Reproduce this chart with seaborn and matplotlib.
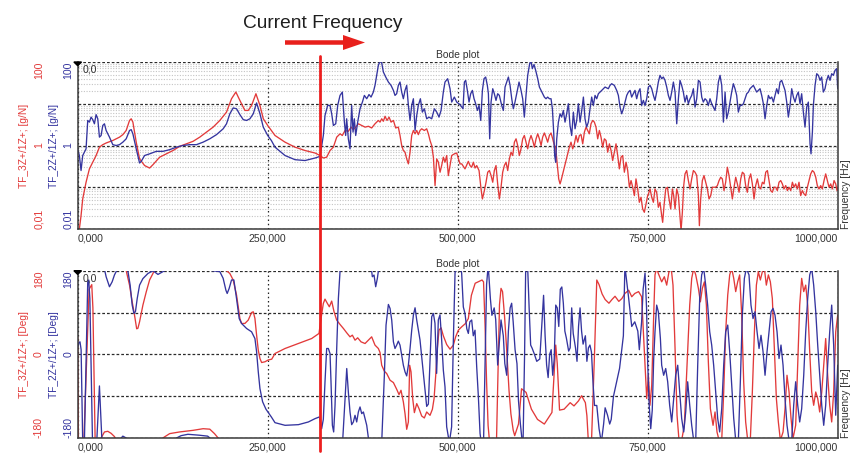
import numpy as np
import pandas as pd
import matplotlib
matplotlib.use("Agg")
import matplotlib.pyplot as plt
import seaborn as sns
from matplotlib.lines import Line2D
from matplotlib.patches import FancyArrow, Polygon
from matplotlib.transforms import blended_transform_factory
from matplotlib.ticker import FixedLocator, FuncFormatter, LogLocator, NullFormatter

nan = float("nan")

# ---------------------------------------------------------------------------
# Measured transfer functions.  Frequency in Hz; magnitude given in decades
# (log10 of g/N); phase in degrees.  A nan entry marks a break in the trace.
# ---------------------------------------------------------------------------
current_frequency = 319.0

red_mag = [
    (0.5, -2.3), (2.2, -2.0), (4.4, -1.68), (6.6, -1.28), (11, -0.88), (15.4, -0.56), (19.8, -0.4),
    (24.2, -0.24), (28.6, -0.04), (33, 0.02), (37.4, 0.06), (46.2, 0.12), (55, 0.2), (59.4, 0.26),
    (63.8, 0.36), (68.2, 0.6), (70.4, 0.64), (72.6, 0.56), (77, 0.08), (81.4, -0.32), (88, -0.48),
    (94.6, -0.54), (99, -0.46), (107.8, -0.28), (116.6, -0.2), (125.4, -0.12), (134.2, -0.02),
    (143, 0.04), (151.8, 0.1), (160.6, 0.2), (169.4, 0.32), (178.2, 0.44), (187, 0.6), (195.8, 0.8),
    (202.4, 1.12), (208.1, 1.28), (213.4, 1.08), (220, 0.84), (224.4, 0.84), (228.8, 0.96),
    (234.5, 1.24), (239.8, 0.96), (244.2, 0.64), (250, 0.48), (254.8, 0.36), (259.6, 0.24),
    (272.8, 0.08), (286, -0.04), (299.1, -0.12), (312.3, -0.18), (318.9, -0.24), (323.2, -0.3),
    (327.6, -0.28), (332, -0.12), (336.4, -0.04), (340.8, 0.2), (345.2, 0.28), (348.2, 0.24),
    (351.8, 0.36), (356.1, 0.34), (359.7, 0.44), (362.7, 0.38), (365.8, 0.44), (369.3, 0.52),
    (373.7, 0.48), (378.1, 0.44), (382.5, 0.46), (386.8, 0.42), (391.2, 0.52), (395.6, 0.6),
    (397.8, 0.56), (400, 0.64), (402.2, 0.58), (404.4, 0.7), (407, 0.6), (409.7, 0.68), (412.3, 0.56),
    (415.4, 0.6), (418.4, 0.42), (421.9, 0.44), (424.1, 0.24), (426.3, 0.0), (428.5, -0.12),
    (430.7, -0.16), (432.9, -0.32), (435.1, -0.44), (437.3, -0.16), (439.5, 0.24), (441.7, 0.36),
    (443.9, 0.28), (446.1, 0.36), (448.2, 0.26), (450.4, 0.36), (452.6, 0.4), (456.1, 0.36),
    (459.2, 0.4), (461.4, 0.28), (463.6, 0.12), (465.8, 0.0), (468, -0.28), (470.2, -0.96),
    (472.4, -0.32), (474.6, -0.4), (476.8, -0.64), (478.9, -0.48), (481.1, -0.28), (483.3, -0.4),
    (485.5, -0.24), (487.7, -0.72), (489.9, -0.48), (492.1, -0.24), (495.6, -0.2), (498.7, -0.18),
    (503, -0.44), (505.3, -0.44), (509.6, -0.56), (514, -0.38), (516.2, -0.48), (518.4, -0.52),
    (520.6, -0.4), (522.8, -0.54), (525, -0.48), (528.1, -0.6), (530.7, -1.04), (532.5, -1.28),
    (535.1, -1.08), (537.3, -0.88), (539.5, -0.64), (541.7, -0.6), (543.9, -0.72), (546.1, -0.88),
    (548.2, -0.6), (550.4, -0.48), (552.6, -0.92), (554.8, -1.28), (557, -1.0), (559.2, -0.64),
    (561.4, -0.48), (563.6, -0.4), (565.8, -0.6), (568, -0.32), (570.2, -0.16), (572.4, -0.24),
    (574.6, 0.08), (576.8, 0.16), (578.9, 0.0), (581.1, -0.24), (583.3, -0.08), (585.5, 0.16),
    (587.7, 0.24), (589.9, 0.08), (592.1, -0.08), (594.3, 0.12), (596.5, 0.24), (598.7, 0.12),
    (600.9, -0.04), (603.1, 0.16), (605.3, 0.28), (607.5, 0.16), (609.7, 0.0), (611.8, 0.2),
    (614, 0.3), (616.2, 0.2), (618.4, 0.08), (620.6, 0.24), (622.8, 0.3), (625, 0.16), (627.2, 0.0),
    (628.9, -0.04), (630.7, -0.4), (632.9, -0.8), (634.7, -0.92), (636, -0.84), (638.2, -0.68),
    (640.4, -0.52), (642.5, -0.36), (644.7, -0.2), (646.9, -0.04), (649.1, 0.08), (651.3, -0.08),
    (653.5, 0.04), (655.7, 0.24), (657.9, 0.08), (660.1, 0.24), (662.3, 0.26), (664.5, 0.04),
    (666.7, 0.32), (668.9, 0.44), (671.1, 0.36), (673.2, 0.28), (675.4, 0.52), (677.6, 0.6),
    (679.8, 0.56), (682, 0.44), (684.2, 0.16), (686.4, 0.36), (688.6, 0.2), (690.8, -0.04),
    (693, 0.16), (695.2, 0.12), (697.4, -0.16), (699.6, 0.04), (701.8, -0.12), (703.9, -0.36),
    (706.1, -0.16), (708.3, 0.04), (710.5, -0.24), (712.7, -0.56), (714.9, -0.28), (717.1, -0.24),
    (719.3, -0.64), (721.5, -0.4), (723.7, -0.6), (725.9, -1.0), (728.1, -0.84), (730.3, -1.0),
    (732.5, -1.2), (734.6, -0.8), (736.8, -1.04), (739, -1.36), (741.2, -1.24), (743.4, -1.52),
    (745.6, -1.6), (747.8, -1.4), (750, -1.2), (751, -1.16), (753.1, -1.04), (755.3, -1.24),
    (757.5, -1.36), (759.6, -1.04), (761.8, -1.12), (764, -1.48), (766.2, -1.36), (768.4, -1.68),
    (769.7, -1.84), (771.5, -1.44), (773.7, -1.04), (775.9, -1.0), (778.1, -1.28), (780.3, -1.52),
    (782.5, -1.04), (784.2, -1.2), (786, -1.52), (788.2, -1.04), (790.4, -1.2), (792.1, -1.6),
    (793.9, -2.04), (795.6, -1.6), (797.4, -0.96), (799.1, -0.68), (801.3, -0.6), (803.5, -0.84),
    (805.7, -1.04), (807.9, -0.8), (810.1, -0.6), (812.3, -0.64), (814.5, -0.72), (816.7, -1.2),
    (818, -1.92), (819.7, -1.28), (821.9, -0.84), (824.1, -0.72), (826.3, -0.88), (828.5, -1.04),
    (830.7, -1.28), (832.9, -1.2), (835.1, -1.0), (837.3, -1.0), (839.5, -1.0), (841.7, -0.96),
    (843.9, -0.84), (846.1, -0.76), (848.2, -0.8), (850.4, -1.08), (852.6, -0.88), (854.8, -0.52),
    (857, -0.72), (859.2, -1.0), (861.4, -1.28), (863.6, -1.0), (865.8, -0.76), (868, -0.92),
    (870.2, -1.12), (872.4, -0.8), (874.6, -0.64), (876.8, -0.68), (878.9, -0.96), (881.1, -1.12),
    (883.3, -0.8), (885.5, -0.68), (887.7, -0.92), (889.9, -1.28), (892.1, -0.96), (894.3, -0.8),
    (896.5, -1.0), (898.7, -1.04), (900.9, -0.88), (903.1, -0.92), (905.3, -0.64), (907.5, -0.6),
    (909.6, -0.84), (911.8, -1.08), (914, -1.12), (916.2, -1.0), (918.4, -1.0), (920.6, -1.08),
    (922.8, -0.88), (925, -0.84), (927.2, -0.92), (929.4, -1.04), (931.6, -0.96), (933.8, -1.08),
    (936, -1.0), (938.2, -1.08), (940.4, -0.88), (942.5, -1.0), (944.7, -0.92), (946.9, -1.04),
    (949.1, -0.88), (951.3, -1.2), (953.5, -1.08), (955.7, -1.16), (957.9, -1.2), (960.1, -1.0),
    (962.3, -0.84), (964.5, -0.68), (966.7, -0.6), (968.9, -0.64), (971.1, -0.76), (973.2, -0.96),
    (975.4, -1.04), (977.6, -0.96), (979.8, -1.04), (982, -0.84), (984.2, -0.68), (986.4, -0.84),
    (988.6, -1.0), (990.8, -0.92), (993, -1.04), (995.2, -0.84), (997.4, -0.92), (999.1, -1.08),
    (1000, -1.0),
]

blue_mag = [
    (0, -0.08), (2.2, -0.24), (4.4, -0.6), (6.6, -0.24), (8.8, -0.16), (11, -0.08), (13.2, 0.6),
    (15.4, 0.56), (17.6, 0.68), (19.8, 0.62), (22, 0.52), (24.2, 0.74), (26.4, 0.64), (28.6, 0.2),
    (30.8, 0.24), (33, 0.48), (35.2, 0.52), (37.4, 0.36), (41.8, 0.2), (46.2, 0.02), (50.6, 0.0),
    (55, 0.02), (59.4, 0.08), (63.8, 0.16), (68.2, 0.36), (70.4, 0.38), (72.6, 0.28), (77, -0.08),
    (81.4, -0.42), (83.6, -0.38), (88, -0.24), (94.6, -0.2), (103.4, -0.14), (112.2, -0.14),
    (121, -0.1), (129.8, -0.04), (138.6, 0.0), (147.4, 0.02), (156.2, 0.02), (165, 0.08),
    (173.8, 0.16), (182.6, 0.26), (191.4, 0.4), (195.8, 0.52), (200.2, 0.76), (204.6, 0.9),
    (209, 0.88), (213.4, 0.74), (217.8, 0.62), (222.2, 0.6), (226.6, 0.64), (231, 0.76),
    (235.4, 1.02), (239.8, 0.76), (244.2, 0.44), (250, 0.24), (254.8, 0.12), (259.6, -0.04),
    (272.8, -0.24), (286, -0.34), (299.1, -0.36), (312.3, -0.3), (318.9, -0.26), (323.2, 0.24),
    (325.4, 0.72), (328.9, 0.96), (332, 0.96), (334.2, 0.76), (336.4, 0.48), (339.5, 0.52),
    (342.1, 0.96), (345.2, 1.2), (348.2, 1.28), (350.9, 0.56), (352.6, 0.24), (353.9, 0.64),
    (356.1, 0.16), (358.3, -0.08), (360.5, 0.96), (362.3, 0.32), (364, 0.64), (365.8, 0.24),
    (368.4, 0.56), (371.5, 0.88), (374.6, 1.04), (377.2, 1.2), (380.3, 1.12), (383.3, 1.22),
    (386, 1.16), (389, 1.28), (391.2, 1.44), (393.4, 1.68), (395.6, 1.92), (397.8, 2.02),
    (400, 1.98), (402.2, 1.76), (405.3, 1.64), (408.8, 1.52), (412.3, 1.44), (415.4, 1.32),
    (417.5, 1.2), (419.7, 1.24), (421.9, 1.44), (424.1, 1.52), (426.3, 1.28), (428.5, 1.12),
    (430.7, 1.32), (432.9, 1.44), (435.1, 0.96), (437.3, 0.6), (439.5, 0.96), (441.7, 1.12),
    (443.9, 0.36), (446.1, 0.72), (448.2, 0.96), (450.9, 1.12), (453.5, 0.8), (456.1, 0.88),
    (459.2, 0.64), (462.3, 0.68), (465.8, 0.64), (469.3, 0.88), (472.4, 0.8), (475.4, 0.68),
    (478.1, 0.84), (481.1, 1.28), (483.3, 1.52), (486.8, 1.6), (489.9, 1.36), (492.1, 1.04),
    (495.6, 1.16), (498.7, 1.04), (503, 0.98), (507, 0.88), (508.8, 1.52), (510.5, 1.56),
    (512.7, 1.32), (514.9, 1.04), (517.1, 1.24), (519.3, 1.32), (521.5, 1.12), (523.7, 1.0),
    (525.9, 0.84), (528.1, 0.96), (530.3, 0.6), (532.5, 1.32), (534.6, 1.6), (536.8, 1.64),
    (539, 1.44), (540.4, 1.24), (542.1, 0.16), (543.9, 1.04), (546.1, 1.36), (548.2, 1.24),
    (550.4, 1.08), (552.6, 1.24), (554.8, 1.2), (557.9, 0.96), (560.1, 0.84), (562.3, 1.4),
    (564.5, 1.52), (566.7, 1.64), (568.9, 1.44), (571.1, 1.12), (573.2, 0.88), (575.4, 1.04),
    (578.1, 1.28), (580.7, 1.52), (582.9, 1.36), (585.5, 1.12), (587.7, 0.68), (589.9, 1.2),
    (592.1, 1.68), (594.7, 1.96), (596.5, 2.02), (598.2, 1.84), (600.4, 1.94), (602.6, 1.8),
    (605.3, 1.6), (607.5, 1.4), (609.7, 1.32), (611.8, 1.24), (614, 1.16), (616.2, 1.12),
    (618.4, 1.16), (620.6, 1.12), (622.8, 1.12), (624.6, 0.88), (626.3, 0.32), (627.6, -0.24),
    (628.9, -0.4), (630.3, 0.16), (632.5, 0.56), (634.7, 0.76), (636.8, 0.68), (639, 0.84),
    (641.2, 0.56), (643.4, 0.76), (645.6, 1.0), (647.8, 0.48), (650, 0.24), (652.2, 0.8),
    (654.4, 0.4), (656.6, 0.6), (658.8, 1.0), (661, 0.56), (663.2, 0.84), (665.4, 1.16),
    (667.5, 0.64), (669.7, 0.44), (671.9, 0.56), (674.1, 0.88), (676.3, 1.16), (678.5, 0.96),
    (680.7, 1.2), (682.9, 1.12), (685.1, 1.24), (689.5, 1.32), (693.9, 1.4), (698.2, 1.36),
    (700.4, 1.44), (702.6, 1.48), (706.1, 1.44), (709.2, 1.32), (711.4, 1.2), (713.6, 0.92),
    (715.8, 0.76), (718, 0.88), (720.2, 1.04), (722.4, 1.2), (724.6, 1.28), (726.8, 1.32),
    (728.9, 1.16), (731.1, 1.24), (733.3, 1.32), (735.5, 1.12), (737.7, 1.28), (739.9, 1.36),
    (742.1, 0.96), (744.3, 1.08), (746.5, 0.96), (748.7, 1.12), (750.9, 1.4), (753.1, 1.44),
    (755.3, 1.36), (757.5, 1.2), (759.6, 1.08), (761.8, 1.28), (764, 1.52), (766.2, 1.68),
    (768.4, 1.6), (770.6, 1.64), (772.8, 1.56), (775, 1.4), (777.2, 1.2), (779.4, 1.08),
    (781.6, 1.28), (783.8, 1.52), (786, 1.28), (788.2, 0.52), (790.4, 1.12), (792.5, 1.56),
    (794.7, 1.44), (796.9, 1.28), (799.1, 1.04), (801.3, 1.2), (803.5, 1.0), (805.7, 1.12),
    (807.9, 1.2), (810.1, 1.36), (812.3, 0.92), (814.5, 1.12), (816.7, 1.56), (818.9, 1.52),
    (821.1, 1.16), (823.2, 1.04), (825.4, 1.12), (827.6, 1.08), (829.8, 0.96), (832, 1.12),
    (834.2, 1.0), (836.4, 0.92), (838.6, 0.84), (840.8, 1.12), (843, 1.52), (845.2, 1.68),
    (847.4, 1.44), (849.6, 0.56), (851.8, 1.28), (853.9, 0.64), (856.1, 0.8), (858.3, 1.04),
    (860.5, 1.28), (862.7, 1.48), (864.9, 1.36), (867.1, 1.2), (869.3, 0.8), (871.5, 0.96),
    (873.7, 0.96), (875.9, 1.0), (878.1, 1.12), (880.3, 1.24), (882.5, 1.28), (884.6, 1.36),
    (886.8, 1.4), (889, 1.44), (891.2, 1.36), (893.4, 1.28), (895.6, 1.32), (897.8, 1.36),
    (900, 1.2), (902.2, 1.0), (904.4, 0.64), (906.6, 0.96), (908.8, 1.2), (911, 1.12),
    (913.2, 1.16), (915.4, 1.04), (917.5, 1.2), (919.7, 1.36), (921.9, 1.24), (924.1, 1.52),
    (926.3, 1.56), (928.5, 1.44), (930.7, 1.32), (932.9, 1.04), (935.1, 0.68), (937.3, 0.96),
    (939.5, 1.36), (941.7, 1.16), (943.9, 1.04), (946.1, 1.2), (948.2, 1.28), (950.4, 1.0),
    (952.6, 1.24), (954.8, 0.8), (957, 0.44), (959.2, 0.92), (961.4, 1.04), (963.6, 0.04),
    (964.9, -0.2), (966.7, 0.32), (968, 0.96), (970.2, 1.44), (972.4, 1.72), (974.6, 1.68),
    (976.8, 1.56), (978.9, 1.64), (981.1, 1.28), (983.3, 1.36), (985.5, 1.56), (987.7, 1.68),
    (989.9, 1.56), (992.1, 1.72), (994.3, 1.68), (996.5, 1.8), (998.7, 1.84), (1000, 1.36),
]

red_phase = [
    (0, 38), (1, -190), (8, -190), (15, 140), (18.5, 150), (20, 100), (23, -190), (28, -190),
    (30.8, -180), (35.2, -167), (39.6, -165.6), (44, -170), (48.4, -177), (51, -185), (52, nan),
    (62, 185), (63.8, 180), (68.2, 149), (71.7, 113), (74.8, 84), (77.6, 55), (79.2, 56),
    (81.4, 70), (85.8, 106), (90.2, 134.5), (94.6, 160), (99, 174), (102, 185), (103, nan),
    (110, -185), (112, -180), (121, -170.6), (134, -167), (151.8, -163.5), (165, -160),
    (173.8, -161), (180, -170.6), (184.8, -180), (186, -185), (187, nan),
    (194, 185), (195.8, 180), (200.2, 174), (204.6, 160), (209, 127.6), (211.2, 102.5),
    (213.4, 77.3), (215.6, 66.5), (220, 66.5), (224.4, 73.7), (228.8, 90), (231, 91.6),
    (233.2, 77.3), (235.4, 41.3), (237.6, 9), (239.8, -9), (242, -17.6), (246.4, -16),
    (250.8, -12), (255.3, -10.4), (259.6, 1.8), (272.8, 12.6), (290.4, 23.3), (307.9, 34.1),
    (317.5, 45), (320.2, 77.2), (323.2, 109.6), (325.4, 118.9), (328.5, 109.6), (331.1, 102.4),
    (334.2, 114.6), (337.3, 91.6), (340.8, 73.6), (345.2, 64.3), (349.6, 55.7), (354, 46.3),
    (358.3, 37.7), (361.4, 41.3), (364.9, 30.5), (368.4, 35.6), (372.8, 26.9), (378.1, 23.3),
    (382.5, 30.5), (386.8, 37.7), (391.2, 19.8), (395.6, 12.6), (397.8, 4), (400, -23.4),
    (403.5, -36.3), (406.6, -41.3), (411, -55.7), (415.4, -60.7), (419.7, -75.1), (422.8, -86.6),
    (425.4, -77.3), (428.5, -102.4), (430.7, -127.6), (432.9, -161.3), (435.1, -145.5),
    (436.8, -23.4), (438.6, -37.7), (440.8, -95.2), (443, -125.4), (446.1, -106), (449.1, -116.8),
    (452.6, -132.6), (456.1, -136.9), (459.2, -124), (463.6, -131.2), (466.7, -118.2),
    (468.9, -95.2), (471.1, -44.9), (473.2, 12.6), (475.4, 52.1), (478.1, 57.1), (481.1, 39.9),
    (485.5, 21.2), (489.9, 11.1), (494.3, 19.8), (497.3, 37.7), (500.9, 52.1), (505.3, 59.3),
    (510, 66), (514, 77), (518, 127), (523, 153), (527, 156), (532, 160), (534, 156), (536, 63),
    (538, -59), (540, -153), (542, -190), (551, -190), (553.5, 0), (555, 107), (557, 142),
    (559, 135), (561.5, 85), (564.5, 9), (567.5, -77), (570, -128), (573, -163), (575, -175),
    (580, -150), (584, -74), (590, -82), (597, -118), (605, -140), (614, -150), (620, -135),
    (624, -125), (627, -40), (629, 20), (631, -20), (634, -120), (640, -118), (648, -104),
    (653, -111), (659, -100), (663, -89), (668, -104), (670, -132), (672, -190), (676, -190),
    (680, 0), (683, 160), (686, 150), (690, 130), (694, 118), (699, 110), (703, 118), (707, 125),
    (712, 114), (716, 120), (720, 131), (725, 138), (729, 124), (733, 131), (738, 135),
    (742, 124), (744.3, 48.5), (746.5, -23), (748.7, -95), (750.9, -45), (753, -109.6),
    (755.3, -66.5), (757.9, 84.4), (759.6, 171), (761.8, 185), (764, 174), (768.4, 156),
    (771.9, 167), (775, 149), (778, 178), (780.7, 189), (783.3, 149), (786, 12.6), (788.6, -131),
    (791.2, -185), (794.7, -185), (798.2, -152.7), (801.8, -23.4), (805.3, 106), (807.9, 163.5),
    (810.5, 185), (813.2, 171), (816.7, 142), (819.3, 113), (821.9, 142), (824.6, 156),
    (827.2, 106), (829.8, -16), (832.5, -117), (836, -152.7), (838.6, -124), (841.2, -167),
    (843.9, -185), (847.4, -185), (850, -81), (852.6, 48.5), (855.3, 127.5), (857.9, 171),
    (860.5, 185), (863.2, 163.5), (865.8, 135), (868.4, 156), (871, 171), (873.7, 84.4),
    (876.3, -59), (878.9, -145.5), (881.6, -185), (885.1, -181), (887.7, -81), (890.4, 48.5),
    (893, 149), (895.6, 178), (898.2, 160), (900.9, 178), (903.5, 185), (906.1, 149),
    (908.8, 171), (911.4, 156), (914, 120), (916.7, 12.6), (919.3, -95), (921.9, -145.5),
    (924.6, -185), (928.1, -167), (930.7, -117), (933.3, -45), (936, -81), (938.6, -138),
    (941.2, -181), (944.7, -152.7), (947.4, -23.4), (950, 106), (952.6, 163.5), (955.3, 135),
    (957.9, 149), (960.5, 106), (963.2, 5.4), (965.8, -81), (968.4, -109.6), (971.1, -81),
    (973.7, -95), (976.3, -124), (979, -81), (981.6, -23.4), (984.2, 34), (986.8, -45),
    (989.5, -109.6), (992.1, -145.5), (994.7, -81), (997.4, 48.5), (1000, 84.4),
]

blue_phase = [
    (0, 15), (1.5, 25), (3, 27), (4.5, 10), (6.6, -190), (8.8, -190), (13.2, 156), (14.5, 160),
    (16, 120), (19.5, -190), (25, -190), (28.6, -68), (32, -190), (34, -190), (34.5, nan),
    (35, 185), (37.4, 167), (41.8, 145.5), (45.3, 156), (48.4, 171), (52.8, 185), (53.5, nan),
    (55, -185), (57.2, -180), (59.4, -176), (63.8, -180), (64.2, nan),
    (64.5, 185), (66, 180), (69, 149), (71.7, 106), (74, 88), (76, 92), (78.3, 120), (81.4, 149),
    (85.8, 163), (92.4, 174), (99, 180), (105.6, 172), (110, 176), (114.4, 180), (116, 185),
    (117, nan),
    (128, -185), (130, -180), (136, -175), (145, -172), (160, -174), (171, -176), (174, -180),
    (175, -185), (175.5, nan),
    (172, 185), (177, 180), (187, 178), (191.4, 163.5), (195, 138), (196.7, 131), (199.3, 142),
    (202.4, 160), (205.5, 160), (209, 120), (212.5, 77), (215.6, 66.5), (222.2, 55.7),
    (228.8, 48.5), (233.2, 34), (235.4, 5.4), (237.6, -37.7), (239.8, -73.7), (243.3, -102),
    (247.7, -118), (254.8, -134.7), (259.6, -147), (272.8, -152.7), (290.4, -151.3),
    (303.5, -145.5), (312.3, -138.3), (318, -134.7), (321, -159.9), (323.2, -139.8),
    (325.4, -59.3), (327.6, 12.6), (329.8, 12.6), (332, 1.8), (333.3, -59.3), (335.1, -152.7),
    (336.8, -167), (338.6, -109.6), (340.8, 12.6), (343, 120.4), (345.6, 190), (346, nan),
    (348.5, -190), (351.8, -95.2), (354, -30.5), (356.1, -80.8), (358.3, -124), (360.5, -151.3),
    (362.7, -145.5), (364.9, -131.2), (367.1, -145.5), (369.3, -124), (371.5, -113.2),
    (373.7, -127.6), (375.9, -124), (378.1, -138.3), (380.3, -152.7), (383.3, -190), (384, nan),
    (386, 190), (387.7, 167), (389.9, 170.7), (392.1, 145.5), (394.3, 163.5), (396.5, 190),
    (397, nan),
    (400, -190), (403.5, -45), (405.7, 62.9), (408.8, 107.4), (411, 98.8), (413.2, 73.6),
    (415.4, 26.9), (417.5, 12.6), (419.7, 19.8), (421.9, 28.4), (424.1, 19.8), (426.3, -1.8),
    (428.5, -23.4), (430.7, -37.7), (432.9, -46.4), (435.1, -23.4), (437.3, 12.6), (439.5, 52.1),
    (441.7, 84.4), (443.9, 100.2), (446.1, 73.6), (450.4, 31), (454.8, -41), (459.2, -112),
    (461.4, -107), (465.8, 81), (468, 88), (470.1, 67), (472.3, -41), (474.5, 74), (476.7, 85),
    (478.9, 31), (481.1, -34), (483.3, -70), (485.5, -156), (489, -190), (492, -156),
    (494.3, 31), (496.5, 175), (498.5, 190), (503, 190), (505.2, 175), (507.4, 102), (509.6, 88),
    (512, 55), (514, 45), (516, 70), (518.4, 74), (520.5, 40), (522.8, 52), (525, -27),
    (527.2, -91), (529.4, -170), (531, -190), (534, -190), (536, -20), (538, 150), (540, 190),
    (541, 170), (543, 120), (545, 84), (548, 100), (550, 75), (552.6, -23), (555, 30), (557, 74),
    (560, 40), (562, -20), (564.5, -45), (566.7, 50), (569, 100), (571, 110), (573, 70),
    (575.5, 10), (578, -20), (580, -100), (582.5, -150), (585, -190), (586, -190), (588, 0),
    (589.5, 190), (592, 190), (594, 100), (596, 20), (598, 13), (601, 0), (604, -15), (608, -10),
    (611, 70), (613, 127), (615, 40), (617, -23), (619, -50), (621, 0), (623, 10), (625, -45),
    (627, -10), (629, 106), (631, 100), (633, 60), (635, 140), (637, 145), (639, 110), (641, 50),
    (643, 35), (646, 7), (648, 14), (650, 100), (652, 45), (655, 14), (657, -15), (659, 60),
    (661, 100), (663, 50), (665, 22), (668, 40), (670, -15), (672, 14), (674, 20), (676, 5),
    (678, -60), (680, -110), (683, -110), (686, -160), (689, -190), (692, -150), (694, -115),
    (697, -130), (700, -150), (702, -140), (705, -90), (709, -60), (713, -30), (718, 40),
    (720, 190), (725, 120), (729, 60), (733, 70), (737, 50), (739, 10), (742, 70), (744, 140),
    (746.5, 175), (748.5, 100), (750, -20), (752, -110), (754, -160), (756, -120), (757.9, -9),
    (759.6, 48.5), (761.8, 106), (764, 91.6), (766.7, 34), (768.4, -23.4), (771, -45),
    (773.7, -30.5), (776.3, -59), (778.9, -109.6), (781.6, -145.5), (784.2, -95), (786.8, -45),
    (789.5, -23.4), (792.1, -81), (794.7, -138), (797.4, -167), (800, -124), (802.6, -59),
    (805.3, -109.6), (807.9, -152.7), (810.5, -185), (813.2, -185), (815.8, -23.4), (818.4, 120),
    (821, 171), (823.7, 185), (826.3, 149), (828.9, 106), (831.6, 48.5), (834.2, 20),
    (836.8, -23.4), (839.5, -81), (842.1, -138), (844.7, -167), (847.4, -117), (850, -23.4),
    (852.6, 48.5), (855.3, 63), (857.9, 5.4), (860.5, -66.5), (863.2, -138), (865.8, -185),
    (869.3, -185), (871.9, -59), (874.5, 84.4), (877.2, 163.5), (879.8, 185), (883.3, 171),
    (885.9, 106), (888.6, 77), (891.2, 91.6), (893.9, 48.5), (896.5, 12.6), (899.1, 41),
    (901.8, 5.4), (904.4, -45), (907, 5.4), (909.6, 48.5), (912.3, 91.6), (914.9, 99),
    (917.5, 84.4), (920.2, 48.5), (922.8, -9), (925.4, 20), (928.1, -23.4), (930.7, -95),
    (933.3, -152.7), (936, -185), (939.5, -185), (942.1, -109.6), (944.7, -59), (947.4, -109.6),
    (950, -145.5), (952.6, -117), (955.3, -45), (957.9, 48.5), (960.5, 120), (963.2, 171),
    (965.8, 185), (968.4, 149), (971.1, 91.6), (973.7, 20), (976.3, -45), (979, -109.6),
    (981.6, -152.7), (984.2, -109.6), (986.8, -23.4), (989.5, 48.5), (992.1, 106), (994.7, 20),
    (997.4, -131), (1000, -23.4),
]

freq_ticks = [0, 250, 500, 750, 1000]
mag_ticks = [100, 1, 0.01]
mag_tick_text = ["100", "1", "0,01"]
phase_ticks = [180, 0, -180]
phase_tick_text = ["180", "0", "-180"]

red_mag_title = "TF_3Z+/1Z+; [g/N]"
blue_mag_title = "TF_2Z+/1Z+; [g/N]"
red_phase_title = "TF_3Z+/1Z+; [Deg]"
blue_phase_title = "TF_2Z+/1Z+; [Deg]"

# ---------------------------------------------------------------------------
RED = "#e23a3a"
BLUE = "#34349f"
TXT = "#333333"
W, H = 851, 457


def to_frame(pairs, decades=False):
    df = pd.DataFrame(pairs, columns=["f", "v"])
    df["seg"] = df["v"].isna().cumsum()
    df = df.dropna()
    if decades:
        df["v"] = 10.0 ** df["v"]
    return df


sns.set_theme(style="white")
plt.rcParams["font.family"] = ["Liberation Sans", "DejaVu Sans"]

fig = plt.figure(figsize=(W / 100, H / 100), dpi=100)
fig.patch.set_facecolor("white")

ax_mag = fig.add_axes([77.7 / W, 1 - 229 / H, (838 - 77.7) / W, (229 - 62) / H])
ax_ph = fig.add_axes([77.7 / W, 1 - 438 / H, (838 - 77.7) / W, (438 - 270.7) / H])

ax_mag.set_yscale("log")

for ax, red, blue in [
    (ax_mag, to_frame(red_mag, True), to_frame(blue_mag, True)),
    (ax_ph, to_frame(red_phase), to_frame(blue_phase)),
]:
    sns.lineplot(data=red, x="f", y="v", units="seg", estimator=None, sort=False,
                 color=RED, linewidth=0.95, ax=ax, legend=False)
    sns.lineplot(data=blue, x="f", y="v", units="seg", estimator=None, sort=False,
                 color=BLUE, linewidth=0.95, ax=ax, legend=False)

fmt = FuncFormatter(lambda v, _: f"{v:.3f}".replace(".", ","))

for ax in (ax_mag, ax_ph):
    ax.set_facecolor("white")
    ax.set_xlim(0, 1000.4)
    ax.set_xlabel("")
    ax.set_ylabel("")
    ax.xaxis.set_major_locator(FixedLocator(freq_ticks))
    ax.xaxis.set_major_formatter(fmt)
    ax.tick_params(axis="x", length=0, pad=3, labelsize=7.6, labelcolor=TXT)
    ax.tick_params(axis="y", which="both", length=0, labelleft=False)
    labels = ax.get_xticklabels()
    labels[0].set_horizontalalignment("left")
    labels[-1].set_horizontalalignment("right")
    ax.xaxis.grid(True, which="major", linestyle=(0, (1.2, 2.2)), color="#222222", linewidth=0.9)
    for side in ("left", "bottom", "right"):
        ax.spines[side].set_color("#3a3a3a")
        ax.spines[side].set_linewidth(1.1)
    ax.spines["top"].set_visible(False)
    ax.set_axisbelow(True)
    ax.text(0.5, 1.012, "Bode plot", transform=ax.transAxes, ha="center", va="bottom",
            fontsize=7.4, color=TXT)
    ax.text(0.006, 0.985, "0,0", transform=ax.transAxes, ha="left", va="top",
            fontsize=7.6, color=TXT)
    ax.add_patch(Polygon([[-0.005, 1.0], [0.005, 1.0], [0.0, 0.978]], closed=True,
                         transform=ax.transAxes, clip_on=False, color="black", zorder=5))
    ax.text(846 / W, 0.0, "Frequency [Hz]", transform=blended_transform_factory(fig.transFigure, ax.transAxes),
            rotation=90, ha="center", va="bottom", fontsize=7.4, color=TXT)

# magnitude panel grid
ax_mag.set_ylim(0.01, 100)
ax_mag.yaxis.set_major_locator(LogLocator(base=10, numticks=10))
ax_mag.yaxis.set_minor_locator(LogLocator(base=10, subs=np.arange(2, 10), numticks=20))
ax_mag.yaxis.set_minor_formatter(NullFormatter())
ax_mag.yaxis.grid(True, which="major", linestyle=(0, (2.2, 1.6)), color="#2a2a2a", linewidth=0.9)
ax_mag.yaxis.grid(True, which="minor", linestyle=(0, (1.0, 1.4)), color="#c4c4c4", linewidth=0.8)

# phase panel grid
ax_ph.set_ylim(-180, 180)
ax_ph.yaxis.set_major_locator(FixedLocator([-180, -90, 0, 90, 180]))
ax_ph.yaxis.grid(True, which="major", linestyle=(0, (2.2, 1.6)), color="#2a2a2a", linewidth=0.9)

# paired left-hand scales (red and blue columns)
for ax, ticks, texts in [(ax_mag, mag_ticks, mag_tick_text), (ax_ph, phase_ticks, phase_tick_text)]:
    tr = blended_transform_factory(fig.transFigure, ax.transData)
    for xpix, col in [(39, RED), (68.5, BLUE)]:
        for v, t, va in zip(ticks, texts, ["top", "center", "bottom"]):
            ax.text(xpix / W, v, t, transform=tr, rotation=90, ha="center", va=va,
                    fontsize=7.6, color=col)

for ax, rt, bt in [(ax_mag, red_mag_title, blue_mag_title), (ax_ph, red_phase_title, blue_phase_title)]:
    tr = blended_transform_factory(fig.transFigure, ax.transAxes)
    ax.text(24 / W, 0.5, rt, transform=tr, rotation=90, ha="center", va="center",
            fontsize=7.3, color=RED)
    ax.text(54 / W, 0.5, bt, transform=tr, rotation=90, ha="center", va="center",
            fontsize=7.3, color=BLUE)

# current frequency cursor spanning both panels
cursor_tr = blended_transform_factory(ax_mag.transData, fig.transFigure)
fig.add_artist(Line2D([current_frequency, current_frequency], [1 - 56 / H, 1 - 451 / H],
                      transform=cursor_tr, color="#ec1f1f", linewidth=2.0, zorder=10))

fig.text(323 / W, 1 - 23.5 / H, "Current Frequency", ha="center", va="center",
         fontsize=13.8, color="#1e1e1e")
fig.add_artist(FancyArrow(285 / W, 1 - 42.5 / H, 80 / W, 0, width=4.5 / H, head_width=15 / H,
                          head_length=22 / W, length_includes_head=True,
                          transform=fig.transFigure, color="#e8201c", linewidth=0))

fig.savefig("out.png", dpi=100, facecolor="white")
